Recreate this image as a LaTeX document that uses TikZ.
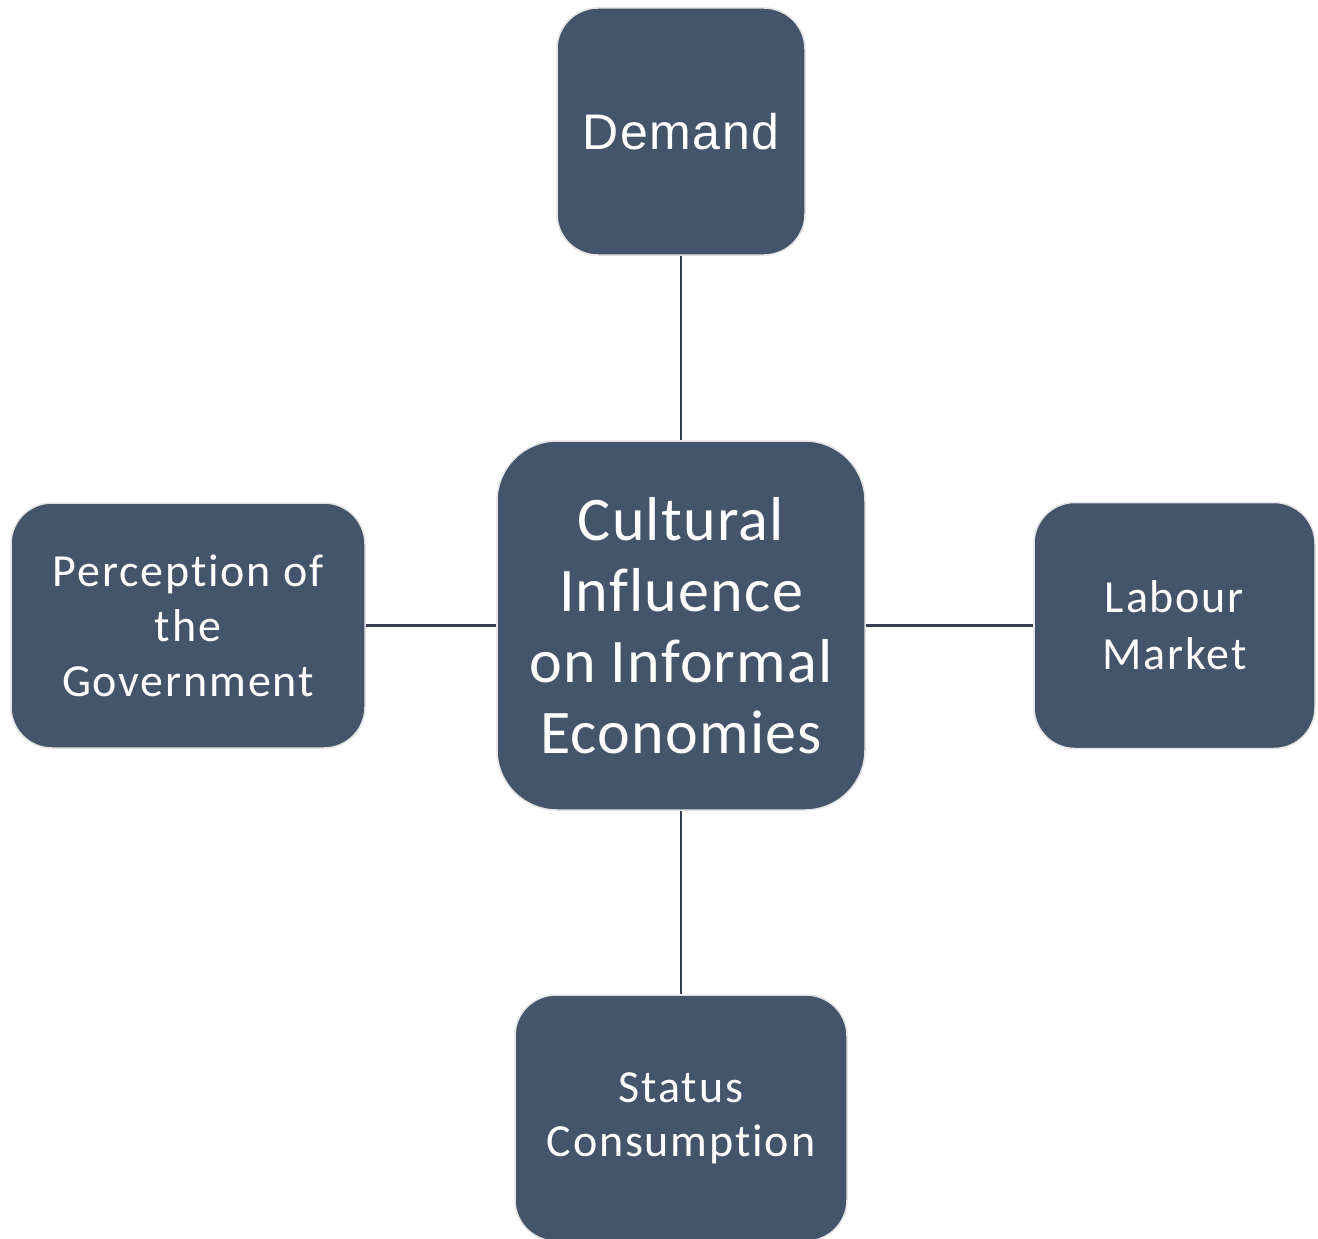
\documentclass[tikz,border=0pt]{standalone}
\usepackage{fontspec}
\setmainfont{Carlito}
\newfontfamily\arialfont[LetterSpace=3]{Liberation Sans}
\newfontfamily\sidefont[LetterSpace=4,Ligatures={NoCommon,NoDiscretionary,NoContextual}]{Carlito}
\newfontfamily\centerfont[LetterSpace=2,Ligatures={NoCommon,NoDiscretionary,NoContextual}]{Carlito}
\definecolor{boxfill}{HTML}{44546A}
\definecolor{boxedge}{HTML}{E3E3E3}
\definecolor{linkcol}{HTML}{333F50}
\begin{document}
\begin{tikzpicture}[x=1pt,y=-1pt,
  cbox/.style={draw=boxedge, line width=1.5pt, fill=boxfill, text=white,
    rounded corners=41pt, inner sep=0pt, align=center},
  link/.style={draw=linkcol, line width=2.2pt}]
\useasboundingbox[fill=white] (0,0) rectangle (1318,1239);
\node[cbox, rounded corners=60pt, minimum width=368pt, minimum height=369pt,
  font=\centerfont\fontsize{62}{71}\selectfont] (center) at (681,625.5)
  {Cultural\\Influence\\on Informal\\Economies};
\node[cbox, minimum width=248pt, minimum height=247pt,
  font=\arialfont\fontsize{50}{58}\selectfont] (demand) at (681,131.5) {Demand};
\node[cbox, minimum width=354pt, minimum height=245pt,
  font=\sidefont\fontsize{46}{55}\selectfont] (gov) at (188,625.5)
  {Perception of\\the\\Government};
\node[cbox, minimum width=281pt, minimum height=246pt,
  font=\sidefont\fontsize{46}{57}\selectfont] (labour) at (1174.5,625.5)
  {Labour\\Market};
\node[cbox, minimum width=332pt, minimum height=246pt,
  font=\sidefont\fontsize{46}{54}\selectfont] (status) at (681,1118)
  {Status\\Consumption};
\draw[link] (center.north) -- (demand.south);
\draw[link] (center.west) -- (gov.east);
\draw[link] (center.east) -- (labour.west);
\draw[link] (center.south) -- (status.north);
\end{tikzpicture}
\end{document}
